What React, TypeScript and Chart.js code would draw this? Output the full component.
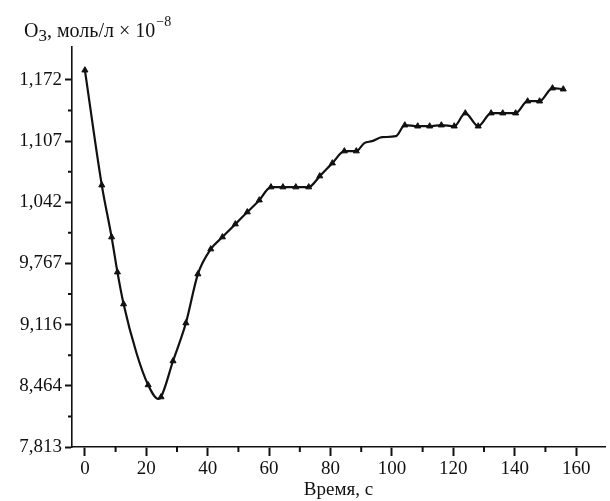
import React, { useEffect, useRef } from "react";
import { Chart, registerables } from "chart.js";

Chart.register(...registerables);

// time, s
const timeS = [
  0, 5.5, 8.7, 10.6, 12.6, 16.8, 20.6, 23.9, 24.8, 28.7, 32.9, 36.8, 41, 44.8, 49, 52.9, 56.8,
  60.6, 64.5, 68.7, 72.9, 76.5, 80.6, 84.5, 88.4, 91, 93.5, 96.8, 101.3, 104.2, 108.4, 112.3,
  116.1, 120.3, 123.9, 128.1, 132.3, 136.1, 140.3, 144.2, 148.1, 152.3, 155.8,
];
// O3 concentration (axis units)
const ozone = [
  11.823, 10.6, 10.047, 9.674, 9.334, 8.813, 8.473, 8.324, 8.345, 8.728, 9.132, 9.653, 9.919,
  10.047, 10.185, 10.313, 10.44, 10.579, 10.579, 10.579, 10.579, 10.696, 10.834, 10.962, 10.962,
  11.047, 11.068, 11.11, 11.121, 11.238, 11.227, 11.227, 11.238, 11.227, 11.366, 11.227, 11.366,
  11.366, 11.366, 11.493, 11.493, 11.632, 11.621,
];
// times of line vertices drawn without a marker
const unmarkedTimes = [16.8, 23.9, 91, 93.5, 96.8, 101.3];

const xTickValues = [0, 20, 40, 60, 80, 100, 120, 140, 160];
const xMinorValues = [10, 30, 50, 70, 90, 110, 130, 150];
const yTickValues = [7.813, 8.464, 9.116, 9.767, 10.418, 11.069, 11.72];
const yTickLabels = ["7,813", "8,464", "9,116", "9,767", "1,042", "1,107", "1,172"];
const yMinorValues = [8.1385, 8.79, 9.4415, 10.0925, 10.7435, 11.3945];

const FONT = "'Liberation Serif', 'Times New Roman', serif";

const minorTicksPlugin = {
  id: "minorTicks",
  afterDraw(chart: any) {
    const ctx = chart.ctx;
    const xs = chart.scales.x;
    const ys = chart.scales.y;
    ctx.save();
    ctx.strokeStyle = "#111";
    ctx.lineWidth = 2;
    ctx.beginPath();
    xMinorValues.forEach((v) => {
      const px = xs.getPixelForValue(v);
      ctx.moveTo(px, xs.top);
      ctx.lineTo(px, xs.top + 5);
    });
    yMinorValues.forEach((v) => {
      const py = ys.getPixelForValue(v);
      ctx.moveTo(ys.right, py);
      ctx.lineTo(ys.right - 4, py);
    });
    ctx.stroke();
    ctx.restore();
  },
};

const yTitlePlugin = {
  id: "yTitle",
  afterDraw(chart: any) {
    const ctx = chart.ctx;
    ctx.save();
    ctx.fillStyle = "#111";
    ctx.textBaseline = "alphabetic";
    ctx.textAlign = "left";
    let x = 24;
    const y = 37;
    ctx.font = `20px ${FONT}`;
    ctx.fillText("O", x, y);
    x += ctx.measureText("O").width;
    ctx.font = `17px ${FONT}`;
    ctx.fillText("3", x, y + 4);
    x += ctx.measureText("3").width;
    ctx.font = `20px ${FONT}`;
    const mid = ", моль/л × 10";
    ctx.fillText(mid, x, y);
    x += ctx.measureText(mid).width;
    ctx.font = `14px ${FONT}`;
    ctx.fillText("−8", x + 1, y - 11);
    ctx.restore();
  },
};

export default function App() {
  const ref = useRef<HTMLCanvasElement>(null);
  useEffect(() => {
    if (!ref.current) return;
    const chart = new Chart(ref.current, {
      type: "line",
      data: {
        datasets: [
          {
            data: timeS.map((t, i) => ({ x: t, y: ozone[i] })),
            borderColor: "#111",
            borderWidth: 2.2,
            backgroundColor: "#111",
            pointStyle: "triangle",
            pointRadius: (c: any) => (unmarkedTimes.includes(timeS[c.dataIndex]) ? 0 : 3.5),
            pointBorderWidth: 1,
            cubicInterpolationMode: "monotone",
            fill: false,
          },
        ],
      },
      plugins: [minorTicksPlugin, yTitlePlugin],
      options: {
        animation: false,
        responsive: true,
        maintainAspectRatio: false,
        layout: { padding: { top: 47, left: 0, right: 0, bottom: 0 } },
        plugins: { legend: { display: false }, tooltip: { enabled: false } },
        scales: {
          x: {
            type: "linear",
            min: -4.2,
            max: 169.4,
            afterBuildTicks: (s: any) => {
              s.ticks = xTickValues.map((v) => ({ value: v }));
            },
            afterFit: (s: any) => {
              s.height = 54;
            },
            ticks: {
              color: "#111",
              font: { family: FONT, size: 19 },
              padding: 2,
              maxRotation: 0,
              autoSkip: false,
              callback: (v: any) => String(v),
            },
            grid: {
              display: true,
              drawOnChartArea: false,
              drawTicks: true,
              tickLength: 9,
              tickWidth: 2,
              tickColor: "#111",
            },
            border: { display: true, color: "#111", width: 1.6 },
            title: {
              display: true,
              text: "Время, с",
              color: "#111",
              font: { family: FONT, size: 19 },
              padding: { top: 0, bottom: 0 },
            },
          },
          y: {
            type: "linear",
            min: 7.813,
            max: 12.07,
            afterBuildTicks: (s: any) => {
              s.ticks = yTickValues.map((v) => ({ value: v }));
            },
            afterFit: (s: any) => {
              s.width = 72;
            },
            ticks: {
              color: "#111",
              font: { family: FONT, size: 19 },
              padding: 3,
              autoSkip: false,
              callback: (_v: any, i: number) => yTickLabels[i],
            },
            grid: {
              display: true,
              drawOnChartArea: false,
              drawTicks: true,
              tickLength: 7,
              tickWidth: 2,
              tickColor: "#111",
            },
            border: { display: true, color: "#111", width: 1.6 },
          },
        },
      },
    } as any);
    return () => chart.destroy();
  }, []);
  return (
    <div style={{ position: "fixed", left: 0, top: 0, width: 610, height: 501, background: "#fff" }}>
      <canvas ref={ref} />
    </div>
  );
}
